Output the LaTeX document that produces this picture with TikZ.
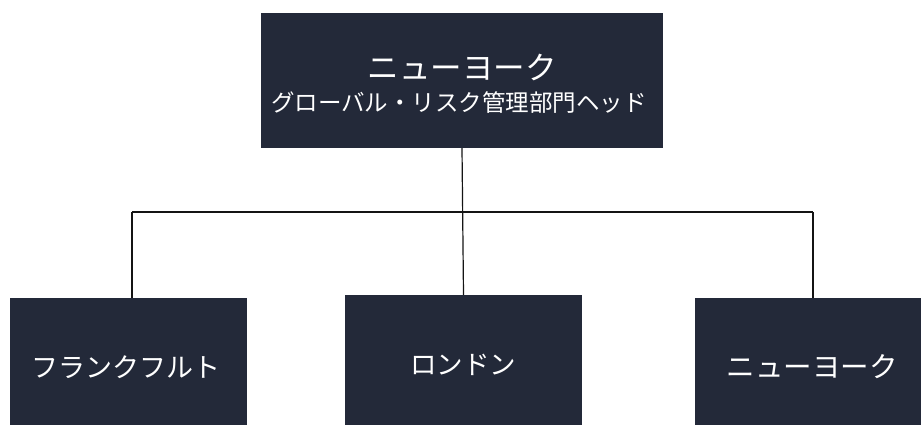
\documentclass[tikz,border=0pt]{standalone}
\usepackage{fontspec}
\newfontfamily\jp{Noto Sans CJK JP}
\definecolor{boxnavy}{RGB}{35,41,57}
\definecolor{linegray}{RGB}{20,20,20}
\tikzset{
  orgbox/.style={fill=boxnavy, draw=none, inner sep=0pt, text=white, font=\jp},
  conn/.style={draw=linegray, line width=1.2pt},
}
\begin{document}
\begin{tikzpicture}[x=1pt,y=-1pt]
\useasboundingbox (0,0) rectangle (921,424);
\clip (0,0) rectangle (921,424);
\fill[white] (0,0) rectangle (921,424);
% boxes
\node[orgbox, minimum width=402pt, minimum height=135pt] (top) at (462,80.5) {};
\node[orgbox, minimum width=237pt, minimum height=142pt] (left) at (128.5,369) {};
\node[orgbox, minimum width=237pt, minimum height=145pt] (mid) at (463.5,367.5) {};
\node[orgbox, minimum width=237pt, minimum height=142pt] (right) at (813.5,369) {};
% texts
\node[text=white, font={\jp\fontsize{31.5}{33}\selectfont}] (t1) at (462,67) {ニューヨーク};
\node[text=white, font={\jp\fontsize{23.5}{26}\selectfont}] (t2) at (459,103) {グローバル・リスク管理部門ヘッド};
\node[text=white, font={\jp\fontsize{27}{30}\selectfont}] (l1) at (126,367) {フランクフルト};
\node[text=white, font={\jp\fontsize{26.5}{29}\selectfont}] (m1) at (463,365) {ロンドン};
\node[text=white, font={\jp\fontsize{28.5}{31}\selectfont}] (r1) at (812,367) {ニューヨーク};
% connectors
\coordinate (hl) at (132,212);
\coordinate (hr) at (813,212);
\draw[conn] (top.south) -- (mid.north);
\draw[conn] (hl) -- (hr);
\draw[conn] (hl) -- (hl |- left.north);
\draw[conn] (hr) -- (hr |- right.north);
\end{tikzpicture}
\end{document}
